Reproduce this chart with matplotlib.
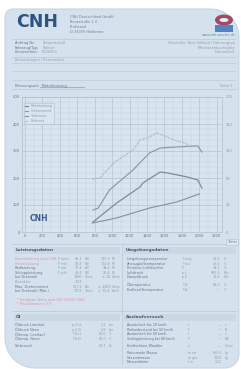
import numpy as np
import matplotlib
matplotlib.use("Agg")
import matplotlib.pyplot as plt
from matplotlib.patches import Polygon, Rectangle, Ellipse

# Kurven-Daten (Drehzahl 1/min, Werte linke Achse)
rpm_ticks = [0, 200, 400, 600, 800, 1000, 1200, 1400, 1600, 1800, 2000, 2200]
y_ticks = [0, 100, 200, 300, 400, 500]
y2_labels = ["0", "40", "80", "120", "160", "200"]

rpm_top = [770, 860, 920, 1030, 1240, 1320, 1430, 1510, 1630, 1740, 1830, 1880]
val_top = [196, 200, 222, 259, 304, 341, 352, 367, 352, 337, 330, 322]

rpm_torque = [780, 840, 970, 1240, 1350, 1430, 1550, 1740, 1980, 2030]
val_torque = [81, 89, 156, 230, 267, 293, 311, 315, 319, 296]

rpm_power = [780, 1050, 1320, 1350, 1550, 1630, 1860, 1980, 2030]
val_power = [37, 107, 167, 181, 222, 219, 204, 193, 163]

rpm_fuel = [770, 1050, 1430, 1740, 2000]
val_fuel = [33, 52, 89, 111, 141]

legend_labels = ["Motorleistung", "Drehmoment", "Verbrauch", "Referenz"]

address = ["CNH Deutschland GmbH", "Benzstraße 1-3", "Prüfstand", "D-74076 Heilbronn"]
info_left = [("Auftrag Nr.:", "Testprotokoll"), ("Fahrzeug/Typ:", "Traktor"), ("Kennzeichen:", "0000000")]
info_right = ["Hersteller: New Holland / Fahrzeugtyp", "Motorkennbuchstabe", "Datum/Zeit"]

power_rows = [
    ("Normleistung nach DIN", "P norm", "95.1", "kW", "129.3", "PS"),
    ("Motorleistung", "P mot", "91.8", "kW", "124.8", "PS"),
    ("Radleistung", "P rad", "72.4", "kW", "98.4", "PS"),
    ("Schleppleistung", "P schl", "19.4", "kW", "26.4", "PS"),
    ("bei Drehzahl", "", "1980", "1/min", "± 10", "1/min"),
    ("Korrektur", "", "1.03", "", "", ""),
    ("Max. Drehmoment", "", "517.6", "Nm", "± 1400", "1/min"),
    ("bei Drehzahl (Mot.)", "", "1772", "1/min", "± 75.4", "km/h"),
]
ambient_rows = [
    ("Umgebungstemperatur", "T umg", "24.6", "°C"),
    ("Ansauglufttemperatur", "T ans", "26.1", "°C"),
    ("Relative Luftfeuchte", "rF", "38.2", "%"),
    ("Luftdruck", "p L", "991.5", "hPa"),
    ("Dampfdruck", "p D", "11.8", "hPa"),
    ("Öltemperatur", "T öl", "88.0", "°C"),
    ("Kraftstofftemperatur", "T kr", "---", "°C"),
]
oil_rows = [
    ("Öldruck Leerlauf", "p öl,LL", "2.1", "bar"),
    ("Öldruck Nenn", "p öl,N", "4.3", "bar"),
    ("Öltemp. Leerlauf", "T öl,LL", "82.0", "°C"),
    ("Öltemp. Nenn", "T öl,N", "91.0", "°C"),
    ("Verbrauch", "", "21.7", "l/h"),
]
mass_rows = [
    ("Auslaufzeit bis 20 km/h", "t", "----", "s"),
    ("Rollwiderstand bei 50 km/h", "F", "----", "N"),
    ("Auslaufzeit bis 50 km/h", "t", "----", "s"),
    ("Schleppleistung bei 80 km/h", "P", "----", "kW"),
    ("Kraftschluss Wandler", "n", "----", "1/min"),
    ("Rotierende Masse", "m rot", "865.0", "kg"),
    ("Gesamtmasse", "m ges", "7410", "kg"),
    ("Massenfaktor", "f m", "1.12", ""),
]

W, H = 241, 369
fig = plt.figure(figsize=(W / 100, H / 100), dpi=100)
fig.patch.set_facecolor("white")

bg = fig.add_axes([0, 0, 1, 1])
bg.set_xlim(0, W)
bg.set_ylim(H, 0)
bg.axis("off")

card = "#d5e2ed"
txt = "#8e9eae"
dark = "#627589"
line = "#b7c7d6"


def corner(cx, cy, r, a0, a1):
    t = np.radians(np.linspace(a0, a1, 12))
    return np.column_stack([cx + r * np.cos(t), cy + r * np.sin(t)])


# Karte mit abgerundeten Ecken (y nach unten)
L, R, T, B = 5, 239, 9, 368
pts = np.vstack([
    corner(L + 8, T + 8, 8, 180, 270),
    corner(R - 28, T + 28, 28, 270, 360),
    corner(R - 14, B - 14, 14, 0, 90),
    corner(L + 30, B - 30, 30, 90, 180),
])
bg.add_patch(Polygon(pts, closed=True, facecolor=card, edgecolor="#c6d5e2", lw=0.8))

# Kopfbereich
bg.text(16, 22, "CNH", fontsize=12.5, fontweight="heavy", color="#2f5282", va="center", ha="left")
for i, s in enumerate(address):
    bg.text(70, 17 + i * 5, s, fontsize=2.5, color="#6d8094", va="center")
bg.add_patch(Ellipse((224, 20), 18, 11, facecolor="#a04a68", edgecolor="none"))
bg.add_patch(Ellipse((224, 20), 9, 4, facecolor="#e8eef4", edgecolor="none"))
bg.add_patch(Rectangle((215, 25), 18, 7, facecolor="#5482be", edgecolor="none"))
bg.text(236, 35.5, "www.cnh-service.de", fontsize=2.4, color="#4a9090", ha="right", va="center")

bg.plot([12, 236], [39, 39], color=line, lw=0.5)
for i, (a, b) in enumerate(info_left):
    y = 43 + i * 4.6
    bg.text(15, y, a, fontsize=2.5, color=dark, va="center")
    bg.text(42, y, b, fontsize=2.5, color=txt, va="center")
for i, s in enumerate(info_right):
    bg.text(235, 43 + i * 4.6, s, fontsize=2.5, color=txt, va="center", ha="right")
bg.plot([12, 236], [56.5, 56.5], color=line, lw=0.5)
bg.text(15, 60, "Bemerkungen / Kommentar", fontsize=2.5, color=txt, va="center")
for y in (63, 71, 80):
    bg.plot([12, 236], [y, y], color=line, lw=0.4)
bg.text(15, 86, "Messungsart:  Motorleistung", fontsize=2.6, color=dark, va="center")
bg.plot([40, 84], [86.5, 86.5], color="#a3b3c2", lw=0.8)
bg.text(232, 86, "Seite 1", fontsize=2.5, color=txt, va="center", ha="right")
bg.plot([12, 236], [89, 89], color=line, lw=0.5)

# Diagramm
x0, x1, y0, y1 = 22, 222, 97, 232
ax = fig.add_axes([x0 / W, 1 - y1 / H, (x1 - x0) / W, (y1 - y0) / H])
ax.set_facecolor("#d8e4ee")
ax.set_xlim(-35, 2260)
ax.set_ylim(0, 500)
ax.set_xticks(rpm_ticks)
ax.set_xticks(np.arange(0, 2201, 100), minor=True)
ax.set_yticks(y_ticks)
ax.set_yticks(np.arange(0, 501, 20), minor=True)
ax.grid(which="major", color="#b0c0ce", lw=0.45)
ax.grid(which="minor", color="#c3d1de", lw=0.3)
ax.tick_params(axis="both", which="both", length=0, labelsize=2.6, labelcolor=dark, pad=1.5)
for sp in ax.spines.values():
    sp.set_color("#b0c0ce")
    sp.set_linewidth(0.5)

ax2 = ax.twinx()
ax2.set_ylim(0, 500)
ax2.set_yticks(y_ticks)
ax2.set_yticklabels(y2_labels)
ax2.tick_params(length=0, labelsize=2.6, labelcolor=txt, pad=2.5)
for sp in ax2.spines.values():
    sp.set_visible(False)

ax.plot(rpm_power, val_power, color="#7a8c9f", lw=0.9, label=legend_labels[0])
ax.plot(rpm_torque, val_torque, color="#8595a7", lw=0.8, label=legend_labels[1])
ax.plot(rpm_fuel, val_fuel, color="#8192a4", lw=0.8, label=legend_labels[2])
ax.plot(rpm_top, val_top, color="#a8b7c5", lw=0.7, ls=(0, (3, 1)), label=legend_labels[3])
leg = ax.legend(loc="upper left", fontsize=2.3, frameon=True, handlelength=1.0,
                borderpad=0.4, labelspacing=0.3, fancybox=False, bbox_to_anchor=(0.0, 0.97))
leg.get_frame().set_facecolor("#dde8f1")
leg.get_frame().set_edgecolor("#a4b4c4")
leg.get_frame().set_linewidth(0.4)
for t in leg.get_texts():
    t.set_color(txt)

ax.text(0.04, 0.1, "CNH", transform=ax.transAxes, fontsize=5.5, fontweight="heavy",
        color="#3a5d8f", va="center")
bg.text(232, 242, "1/min", fontsize=2.4, color=dark, ha="center", va="center",
        bbox=dict(boxstyle="square,pad=0.3", fc="#dde8f1", ec="#b0c0ce", lw=0.4))


# Tabellen
def heading(xa, xb, y, s):
    bg.add_patch(Rectangle((xa, y - 3.5), xb - xa, 7, facecolor="#cad8e4", edgecolor="none"))
    bg.text(xa + 2, y, s, fontsize=3.2, fontweight="bold", color="#46596d", va="center")


bg.plot([12, 236], [244, 244], color=line, lw=0.5)
bg.plot([122, 122], [245, 364], color=line, lw=0.5)
heading(14, 120, 250, "Leistungsdaten")
heading(124, 236, 250, "Umgebungsdaten")

for i, (a, sym, v1, u1, v2, u2) in enumerate(power_rows):
    y = 259 + i * 4.6
    c = "#d995ab" if i < 2 else (txt if i == 5 else dark)
    bg.text(15, y, a, fontsize=2.5, color=c, va="center")
    bg.text(58, y, sym, fontsize=2.2, color=txt, va="center")
    bg.text(82, y, v1, fontsize=2.4, color=txt, va="center", ha="right")
    bg.text(85, y, u1, fontsize=2.2, color=txt, va="center")
    bg.text(110, y, v2, fontsize=2.4, color=txt, va="center", ha="right")
    bg.text(112, y, u2, fontsize=2.2, color=txt, va="center")
bg.text(17, 300, "* Korrigierte Werte nach DIN 70020 / EWG", fontsize=2.3, color="#d995ab", va="center")
bg.text(17, 304, "* Messtoleranz ± 4 %", fontsize=2.3, color="#d995ab", va="center")

for i, (a, sym, v, u) in enumerate(ambient_rows):
    y = 259 + i * 4.6 + (3 if i >= 5 else 0)
    bg.text(127, y, a, fontsize=2.5, color=dark, va="center")
    bg.text(182, y, sym, fontsize=2.2, color=txt, va="center")
    bg.text(220, y, v, fontsize=2.4, color=txt, va="center", ha="right")
    bg.text(224, y, u, fontsize=2.2, color=txt, va="center")

bg.plot([12, 236], [311, 311], color=line, lw=0.5)
heading(14, 120, 317, "Öl")
heading(124, 236, 317, "Auslaufversuch")

for i, (a, sym, v, u) in enumerate(oil_rows):
    y = 325 + i * 4.6 + (2.5 if i == 4 else 0)
    bg.text(15, y, a, fontsize=2.5, color=dark, va="center")
    bg.text(72, y, sym, fontsize=2.2, color=txt, va="center")
    bg.text(106, y, v, fontsize=2.4, color=txt, va="center", ha="right")
    bg.text(109, y, u, fontsize=2.2, color=txt, va="center")

for i, (a, sym, v, u) in enumerate(mass_rows):
    y = 325 + i * 4.6 + (2.5 if i >= 4 else 0) + (2.5 if i >= 5 else 0)
    bg.text(127, y, a, fontsize=2.4, color=dark, va="center")
    bg.text(188, y, sym, fontsize=2.2, color=txt, va="center")
    bg.text(222, y, v, fontsize=2.3, color=txt, va="center", ha="right")
    bg.text(225, y, u, fontsize=2.2, color=txt, va="center")

fig.savefig("out.png", dpi=100, facecolor="white")
